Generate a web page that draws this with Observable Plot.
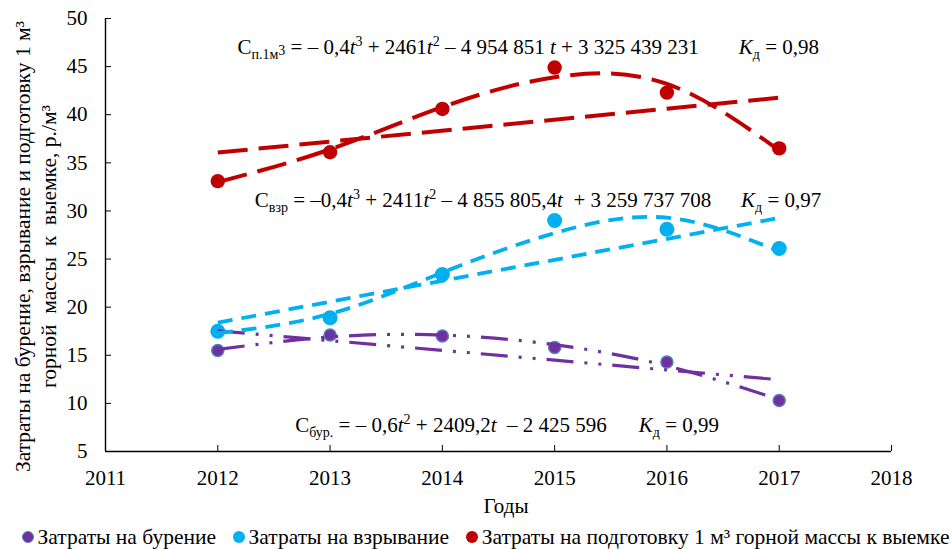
<!DOCTYPE html>
<html><head><meta charset="utf-8">
<script src="https://cdn.jsdelivr.net/npm/d3@7"></script>
<script src="https://cdn.jsdelivr.net/npm/@observablehq/plot@0.6"></script>
<style>
body{margin:0;background:#fff;font-family:"Liberation Serif","Times New Roman",serif;}
#chart{width:952px;height:549px;position:relative;overflow:hidden;background:#fff}
#chart svg text{white-space:pre}
#xlabel{position:absolute;top:494px;left:506px;transform:translateX(-50%);font-size:21px;line-height:24px;white-space:nowrap}
#legend{position:absolute;top:525px;left:22px;height:24px;line-height:24px;font-size:21.5px;display:flex;white-space:nowrap}
#legend .item{display:flex;align-items:center;margin-right:17px}
#legend .mk{display:inline-block;width:12px;height:12px;border-radius:50%;margin-right:3.5px;box-sizing:border-box}
</style></head><body><div id="chart"></div><script>
// ---- data ----
const years = [2012, 2013, 2014, 2015, 2016, 2017];
const drilling = [15.5, 17.1, 17.0, 15.8, 14.3, 10.3];
const blasting = [17.5, 18.9, 23.4, 29.0, 28.1, 26.1];
const preparation = [33.1, 36.1, 40.6, 44.9, 42.3, 36.5];
// polynomial trend lines at each year
const drillingPolyTrend = [15.6, 16.9, 17.1, 16.1, 13.9, 10.4];
const blastingPolyTrend = [17.3, 19.3, 23.6, 27.7, 29.3, 25.8];
const preparationPolyTrend = [33.0, 36.4, 40.8, 43.9, 43.2, 36.3];
const xTicks = [2011, 2012, 2013, 2014, 2015, 2016, 2017, 2018];
const yTicks = [5, 10, 15, 20, 25, 30, 35, 40, 45, 50];
const seriesNames = ["Затраты на бурение", "Затраты на взрывание", "Затраты на подготовку 1 м³ горной массы к выемке"];
const yTitle = "Затраты на бурение, взрывание и подготовку 1 м³\nгорной  массы  к  выемке, р./м³";
const xTitle = "Годы";
const eqPreparation = [["С"],["п.1м","sub"],["3","mid"],[" = – 0,4"],["t","i"],["3","sup"],[" + 2461"],["t","i"],["2","sup"],[" – 4 954 851 "],["t","i"],[" + 3 325 439 231"]];
const eqBlasting = [["С"],["взр","sub"],[" = –0,4"],["t","i"],["3","sup"],[" + 2411"],["t","i"],["2","sup"],[" – 4 855 805,4"],["t","i"],["  + 3 259 737 708"]];
const eqDrilling = [["С"],["бур.","sub"],[" = – 0,6"],["t","i"],["2","sup"],[" + 2409,2"],["t","i"],["  – 2 425 596"]];
const kPreparation = [["K","i"],["д","sub"],[" = 0,98"]];
const kBlasting = [["K","i"],["д","sub"],[" = 0,97"]];
const kDrilling = [["K","i"],["д","sub"],[" = 0,99"]];

// ---- styles ----
const colors = {drilling: "#7030A0", blasting: "#00B0F0", preparation: "#C00000"};
const annotations = [
  {parts: eqPreparation, x: 2012.175, y: 46.96},
  {parts: kPreparation, x: 2016.64, y: 46.96},
  {parts: eqBlasting, x: 2012.33, y: 31.15},
  {parts: kBlasting, x: 2016.66, y: 31.15},
  {parts: eqDrilling, x: 2012.69, y: 7.75},
  {parts: kDrilling, x: 2015.75, y: 7.75}
];
const plain = p => p.map(d => d[0]).join("");
function rich(parts) {
  let shift = 0;
  return parts.map(([s, t]) => {
    const target = t === "sub" ? 5 : t === "sup" ? -8 : t === "mid" ? 1 : 0;
    const dy = target - shift; shift = target;
    const size = (t === "sub" || t === "sup" || t === "mid") ? ' font-size="14"' : '';
    const it = t === "i" ? ' font-style="italic"' : '';
    return `<tspan dy="${dy}"${size}${it}>${s}</tspan>`;
  }).join("");
}

const table = years.map((year, i) => ({
  year,
  drilling: drilling[i], blasting: blasting[i], preparation: preparation[i],
  drillingPoly: drillingPolyTrend[i], blastingPoly: blastingPolyTrend[i], preparationPoly: preparationPolyTrend[i]
}));

const series = [
  {key: "drilling", r: 6, stroke: "#4F81BD", sw: 1.5, lw: 3.2, dash: "27,11,3,11,3,11"},
  {key: "blasting", r: 7.5, stroke: "none", sw: 0, lw: 3.8, dash: "15,9"},
  {key: "preparation", r: 7.2, stroke: "none", sw: 0, lw: 4, dash: "30,11"}
];

const marks = [
  Plot.axisX({ticks: xTicks, tickFormat: d => String(d), tickSize: -6, tickPadding: 25, label: null, fontSize: 21}),
  Plot.axisY({ticks: yTicks, tickSize: -6, tickPadding: 24, label: null, fontSize: 21}),
  Plot.ruleX([2011], {stroke: "black", strokeWidth: 1.4}),
  Plot.ruleY([5], {stroke: "black", strokeWidth: 1.4}),
  Plot.text([yTitle], {text: d => d, frameAnchor: "left", textAnchor: "middle", rotate: -90, dx: -71, dy: 11.5, lineHeight: 1.21, fontSize: 21.5, fill: "black"})
];
for (const s of series) {
  marks.push(Plot.dot(table, {x: "year", y: s.key, r: s.r, fill: colors[s.key], stroke: s.stroke, strokeWidth: s.sw}));
}
for (const s of series) {
  marks.push(Plot.linearRegressionY(table, {x: "year", y: s.key, ci: 0, stroke: colors[s.key], strokeWidth: s.lw, strokeDasharray: s.dash, strokeLinecap: "butt"}));
  marks.push(Plot.line(table, {x: "year", y: s.key + "Poly", curve: "natural", stroke: colors[s.key], strokeWidth: s.lw, strokeDasharray: s.dash, strokeLinecap: "butt"}));
}
marks.push(Plot.text(annotations, {x: "x", y: "y", text: d => plain(d.parts), textAnchor: "start", fontSize: 21, fill: "black"}));

const plot = Plot.plot({
  width: 952, height: 492,
  marginTop: 18, marginBottom: 41, marginLeft: 105, marginRight: 61,
  x: {domain: [2011, 2018]},
  y: {domain: [5, 50]},
  style: {fontFamily: "'Liberation Serif', 'Times New Roman', serif", fontSize: "21px", color: "black", background: "white", overflow: "visible"},
  marks
});
const chart = document.getElementById("chart");
chart.appendChild(plot);

const richMap = new Map(annotations.map(a => [plain(a.parts), rich(a.parts)]));
d3.select(plot).selectAll("text").each(function() {
  const t = this.textContent;
  if (richMap.has(t)) this.innerHTML = richMap.get(t);
});

const xl = document.createElement("div");
xl.id = "xlabel"; xl.textContent = xTitle;
chart.appendChild(xl);

const legend = document.createElement("div");
legend.id = "legend";
series.forEach((s, i) => {
  const item = document.createElement("span");
  item.className = "item";
  const mk = document.createElement("span");
  mk.className = "mk";
  mk.style.background = colors[s.key];
  if (s.stroke !== "none") mk.style.border = "1.5px solid " + s.stroke;
  item.appendChild(mk);
  item.appendChild(document.createTextNode(seriesNames[i]));
  legend.appendChild(item);
});
chart.appendChild(legend);
</script></body></html>
